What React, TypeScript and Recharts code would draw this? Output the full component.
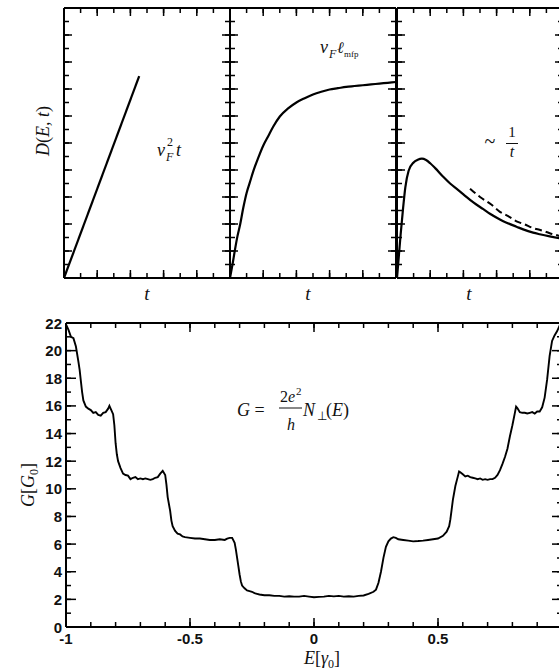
import React from 'react';
import { LineChart, Line, XAxis, YAxis } from 'recharts';

// top row: spreading D(E,t) in three regimes
const ballisticT = [0, 4.53];
const ballisticD = [0, 7.48];

const diffusiveT = [0, 0.15, 0.3, 0.45, 0.6, 0.8, 1.0, 1.2, 1.4, 1.7, 2.0, 2.3, 2.6, 3.0, 3.5, 4.0, 4.5, 5.0, 5.5, 6.0, 6.5, 7.0, 7.5, 8.0, 8.5, 9.0, 9.5, 10];
const diffusiveD = [0, 0.5, 1.05, 1.55, 1.95, 2.6, 3.15, 3.55, 3.95, 4.45, 4.9, 5.25, 5.6, 5.98, 6.28, 6.5, 6.66, 6.8, 6.9, 6.98, 7.03, 7.08, 7.11, 7.14, 7.17, 7.2, 7.23, 7.26];

const localizedT = [0, 0.12, 0.22, 0.35, 0.5, 0.7, 1.0, 1.25, 1.5, 1.75, 2.0, 2.3, 2.8, 3.2, 3.6, 4.0, 4.6, 5.2, 5.6, 6.2, 6.6, 7.2, 7.6, 8.2, 8.6, 9.2, 9.8, 10];
const localizedD = [0, 0.88, 1.62, 2.48, 3.35, 3.97, 4.28, 4.38, 4.42, 4.37, 4.25, 4.07, 3.74, 3.5, 3.3, 3.1, 2.8, 2.55, 2.38, 2.17, 2.05, 1.9, 1.8, 1.68, 1.62, 1.54, 1.47, 1.45];

const inverseT = [4.4, 5.0, 5.66, 6.2, 6.67, 7.2, 7.67, 8.2, 8.67, 9.2, 9.77, 10];
const inverseD = [3.31, 3.0, 2.73, 2.45, 2.3, 2.1, 1.99, 1.85, 1.77, 1.66, 1.56, 1.52];

// bottom: conductance vs energy
const energy = [
  -1.0, -0.99, -0.98, -0.97, -0.96, -0.95, -0.945, -0.94, -0.935, -0.93, -0.92, -0.91, -0.9, -0.89, -0.88, -0.87, -0.86, -0.85, -0.84, -0.83,
  -0.825, -0.82, -0.81, -0.805, -0.8, -0.795, -0.79, -0.78, -0.77, -0.76, -0.75, -0.74, -0.73, -0.72, -0.71, -0.7, -0.69, -0.68, -0.67, -0.66,
  -0.65, -0.64, -0.63, -0.62, -0.61, -0.6, -0.595, -0.59, -0.58, -0.575, -0.57, -0.56, -0.55, -0.54, -0.53, -0.52, -0.5, -0.48, -0.46, -0.44,
  -0.42, -0.4, -0.38, -0.36, -0.35, -0.34, -0.33, -0.32, -0.315, -0.31, -0.305, -0.3, -0.295, -0.29, -0.28, -0.27, -0.26, -0.25, -0.24, -0.23,
  -0.22, -0.2, -0.18, -0.16, -0.14, -0.12, -0.1, -0.08, -0.06, -0.04, -0.02, 0, 0.02, 0.04, 0.06, 0.08, 0.1, 0.12, 0.14, 0.16,
  0.18, 0.2, 0.22, 0.24, 0.25, 0.26, 0.27, 0.28, 0.29, 0.3, 0.31, 0.32, 0.33, 0.34, 0.36, 0.38, 0.4, 0.42, 0.44, 0.46,
  0.48, 0.5, 0.52, 0.535, 0.545, 0.55, 0.555, 0.56, 0.57, 0.58, 0.585, 0.59, 0.6, 0.61, 0.62, 0.63, 0.64, 0.65, 0.66, 0.67,
  0.68, 0.69, 0.7, 0.71, 0.72, 0.73, 0.74, 0.75, 0.76, 0.77, 0.78, 0.79, 0.8, 0.81, 0.815, 0.82, 0.83, 0.84, 0.85, 0.86,
  0.87, 0.88, 0.89, 0.9, 0.91, 0.92, 0.93, 0.94, 0.95, 0.96, 0.97, 0.98, 0.99, 1.0,
];
const conductance = [
  21.9, 21.5, 21.0, 20.9, 20.3, 19.2, 18.6, 17.8, 17.0, 16.4, 15.95, 15.8, 15.7, 15.5, 15.55, 15.35, 15.3, 15.5, 15.55, 15.8,
  16.0, 15.8, 15.4, 14.6, 13.3, 12.5, 12.0, 11.5, 11.1, 11.0, 10.95, 10.7, 10.8, 10.85, 10.7, 10.75, 10.7, 10.75, 10.7, 10.65,
  10.7, 10.8, 10.85, 11.1, 11.3, 11.0, 10.3, 9.4, 8.4, 7.7, 7.3, 6.95, 6.75, 6.7, 6.55, 6.5, 6.45, 6.4, 6.4, 6.35,
  6.3, 6.3, 6.35, 6.3, 6.4, 6.45, 6.45, 6.1, 5.6, 5.0, 4.4, 3.8, 3.3, 3.0, 2.8, 2.65, 2.6, 2.55, 2.45, 2.4,
  2.35, 2.3, 2.3, 2.25, 2.25, 2.2, 2.22, 2.2, 2.2, 2.25, 2.2, 2.15, 2.18, 2.2, 2.25, 2.22, 2.25, 2.2, 2.22, 2.2,
  2.25, 2.28, 2.4, 2.55, 2.7, 3.2, 4.0, 5.0, 5.8, 6.2, 6.4, 6.5, 6.45, 6.35, 6.3, 6.25, 6.2, 6.22, 6.25, 6.3,
  6.35, 6.4, 6.6, 6.9, 7.3, 7.8, 8.5, 9.2, 10.2, 10.9, 11.25, 11.2, 11.05, 10.9, 10.95, 10.85, 10.8, 10.75, 10.7, 10.75,
  10.65, 10.7, 10.65, 10.7, 10.7, 10.8, 11.0, 11.35, 11.8, 12.3, 12.9, 13.8, 14.6, 15.5, 15.95, 15.85, 15.55, 15.5, 15.5, 15.45,
  15.5, 15.55, 15.45, 15.6, 15.6, 15.9, 16.6, 17.9, 19.6, 20.7, 21.1, 21.4, 21.8, 22.2,
];

const tTicks = [0, 1, 2, 3, 4, 5, 6, 7, 8, 9, 10];
const dTicks = [0, 0.5, 1, 1.5, 2, 2.5, 3, 3.5, 4, 4.5, 5, 5.5, 6, 6.5, 7, 7.5, 8, 8.5, 9, 9.5, 10];
const eTicks = [-1, -0.9, -0.8, -0.7, -0.6, -0.5, -0.4, -0.3, -0.2, -0.1, 0, 0.1, 0.2, 0.3, 0.4, 0.5, 0.6, 0.7, 0.8, 0.9, 1];
const gTicks = [0, 1, 2, 3, 4, 5, 6, 7, 8, 9, 10, 11, 12, 13, 14, 15, 16, 17, 18, 19, 20, 21, 22];
const eLabels = ['-1', '-0.5', '0', '0.5'];

const toRows = (xs: number[], ys: number[], xk: string, yk: string) =>
  xs.map((x, i) => ({ [xk]: x, [yk]: ys[i] }));

const SERIF = '"Liberation Serif", "Times New Roman", serif';
const SANS = '"Liberation Sans", Arial, sans-serif';

const near = (a: number, b: number) => Math.abs(a - b) < 1e-6;
const evenInt = (v: number) => near(v / 2, Math.round(v / 2));
const isInt = (v: number) => near(v, Math.round(v));
const halfStep = (v: number) => near(v * 2, Math.round(v * 2));

const BASE_TICK = 5; // built-in inward tick length (tickSize = -BASE_TICK)

// longer marks on major values, optional label; props.x/y sit BASE_TICK inside the edge
function tickMark(side: string, isMajor: (v: number) => boolean, long: number, label?: (v: number) => string | null) {
  return function TickMark(props: any) {
    let x = Number(props.x);
    let y = Number(props.y);
    if (side === 'bottom') y += BASE_TICK;
    if (side === 'top') y -= BASE_TICK;
    if (side === 'left') x -= BASE_TICK;
    if (side === 'right') x += BASE_TICK;
    const v = Number(props.payload?.value);
    const len = isMajor(v) ? long : 0;
    let dx = 0;
    let dy = 0;
    if (side === 'bottom') dy = -len;
    if (side === 'top') dy = len;
    if (side === 'left') dx = len;
    if (side === 'right') dx = -len;
    const text = label ? label(v) : null;
    return (
      <g>
        {len > 0 && <path d={`M${x},${y}l${dx},${dy}`} stroke="#000" strokeWidth={1.5} fill="none" />}
        {text != null && side === 'bottom' && (
          <text x={x} y={y + 17} textAnchor="middle" fontFamily={SANS} fontWeight="bold" fontSize={15} fill="#111">{text}</text>
        )}
        {text != null && side === 'left' && (
          <text x={x - 4} y={y + 5.5} textAnchor="end" fontFamily={SANS} fontWeight="bold" fontSize={15} fill="#111">{text}</text>
        )}
      </g>
    );
  };
}

const frame = { stroke: '#000', strokeWidth: 2 };
const tickStroke = { stroke: '#000', strokeWidth: 1.5 };
const AX = 2;

const PANEL_W = 166;
const PANEL_H = 270;
const PAD = 20;

const axisCommon = {
  allowDataOverflow: true,
  interval: 0 as const,
  tickSize: -BASE_TICK,
  tickMargin: 0,
  tickLine: tickStroke,
  axisLine: frame,
};

function TopPanel({ left, rows, fitRows }: { left: number; rows: any[]; fitRows?: any[] }) {
  const m = PAD - AX;
  return (
    <div style={{ position: 'absolute', left: left - PAD, top: 7.5 - PAD }}>
      <LineChart width={PANEL_W + 2 * PAD} height={PANEL_H + 2 * PAD} margin={{ top: m, right: m, bottom: m, left: m }}>
        <XAxis xAxisId="b" dataKey="t" type="number" domain={[0, 10]} ticks={tTicks} orientation="bottom" height={AX}
          {...axisCommon} tick={tickMark('bottom', evenInt, 8)} />
        <XAxis xAxisId="t" dataKey="t" type="number" domain={[0, 10]} ticks={tTicks} orientation="top" height={AX}
          {...axisCommon} tick={tickMark('top', evenInt, 8)} />
        <YAxis yAxisId="l" type="number" domain={[0, 10]} ticks={dTicks} orientation="left" width={AX}
          {...axisCommon} tick={tickMark('left', isInt, 8)} />
        <YAxis yAxisId="r" type="number" domain={[0, 10]} ticks={dTicks} orientation="right" width={AX}
          {...axisCommon} tick={tickMark('right', isInt, 8)} />
        <Line xAxisId="b" yAxisId="l" data={rows} dataKey="d" type="monotone" stroke="#000" strokeWidth={2.2}
          dot={false} isAnimationActive={false} />
        {fitRows && (
          <Line xAxisId="b" yAxisId="l" data={fitRows} dataKey="d" type="monotone" stroke="#000" strokeWidth={2}
            strokeDasharray="7 4" dot={false} isAnimationActive={false} />
        )}
      </LineChart>
    </div>
  );
}

function ConductancePanel() {
  const rows = toRows(energy, conductance, 'e', 'g');
  return (
    <div style={{ position: 'absolute', left: 0, top: 300 }}>
      <LineChart width={620} height={372} margin={{ top: 21, left: 64, right: 56, bottom: 43 }}>
        <XAxis xAxisId="b" dataKey="e" type="number" domain={[-1, 1]} ticks={eTicks} orientation="bottom" height={AX}
          {...axisCommon} tick={tickMark('bottom', halfStep, 9, (v) => eLabels.find((s) => near(parseFloat(s), v)) ?? null)} />
        <XAxis xAxisId="t" dataKey="e" type="number" domain={[-1, 1]} ticks={eTicks} orientation="top" height={AX}
          {...axisCommon} tick={tickMark('top', halfStep, 9)} />
        <YAxis yAxisId="l" type="number" domain={[0, 22]} ticks={gTicks} orientation="left" width={AX}
          {...axisCommon} tick={tickMark('left', evenInt, 10, (v) => (evenInt(v) ? String(Math.round(v)) : null))} />
        <YAxis yAxisId="r" type="number" domain={[0, 22]} ticks={gTicks} orientation="right" width={AX}
          {...axisCommon} tick={tickMark('right', evenInt, 10)} />
        <Line xAxisId="b" yAxisId="l" data={rows} dataKey="g" type="linear" stroke="#000" strokeWidth={1.9}
          dot={false} isAnimationActive={false} />
      </LineChart>
    </div>
  );
}

function Annotations() {
  const it = { fontFamily: SERIF, fontStyle: 'italic' as const, fill: '#111' };
  const up = { fontFamily: SERIF, fill: '#111' };
  return (
    <svg width={559} height={672} style={{ position: 'absolute', left: 0, top: 0, pointerEvents: 'none' }}>
      {/* axis titles */}
      <text transform="translate(49,131) rotate(-90)" textAnchor="middle" fontSize={18} {...up}>
        <tspan {...it}>D</tspan>(<tspan {...it}>E, t</tspan>)
      </text>
      <text x={147} y={300} textAnchor="middle" fontSize={19} {...it}>t</text>
      <text x={308} y={300} textAnchor="middle" fontSize={19} {...it}>t</text>
      <text x={469} y={300} textAnchor="middle" fontSize={19} {...it}>t</text>
      <text transform="translate(34,485) rotate(-90)" textAnchor="middle" fontSize={18} {...up}>
        <tspan {...it}>G</tspan>[<tspan {...it}>G</tspan><tspan fontSize={12} dy={4}>0</tspan><tspan dy={-4}>]</tspan>
      </text>
      <text x={322} y={664} textAnchor="middle" fontSize={18} {...up}>
        <tspan {...it}>E</tspan>[<tspan {...it}>γ</tspan><tspan fontSize={12} dy={4}>0</tspan><tspan dy={-4}>]</tspan>
      </text>

      {/* v_F^2 t */}
      <text x={157} y={156} fontSize={18} {...it}>v</text>
      <text x={167} y={146} fontSize={12} {...up}>2</text>
      <text x={166} y={161} fontSize={12} {...it}>F</text>
      <text x={176} y={156} fontSize={18} {...it}>t</text>

      {/* v_F l_mfp */}
      <text x={320} y={53} fontSize={18} {...it}>v</text>
      <text x={329} y={58} fontSize={12} {...it}>F</text>
      <text x={337} y={53} fontSize={16} {...it}>ℓ</text>
      <text x={344} y={57} fontSize={9} {...up}>mfp</text>

      {/* ~ 1/t */}
      <text x={490} y={148} textAnchor="middle" fontSize={20} {...up}>~</text>
      <text x={512} y={137} textAnchor="middle" fontSize={15} {...up}>1</text>
      <line x1={506} x2={518} y1={143.5} y2={143.5} stroke="#111" strokeWidth={1} />
      <text x={512} y={157} textAnchor="middle" fontSize={16} {...it}>t</text>

      {/* G = 2e^2/h N_perp(E) */}
      <text x={237} y={416} fontSize={18} {...up}><tspan {...it}>G</tspan> =</text>
      <text x={280} y={402} fontSize={16} {...up}>2<tspan {...it}>e</tspan></text>
      <text x={296} y={395} fontSize={11} {...up}>2</text>
      <line x1={279} x2={302} y1={408} y2={408} stroke="#111" strokeWidth={1} />
      <text x={291} y={430} textAnchor="middle" fontSize={16} {...it}>h</text>
      <text x={303} y={416} fontSize={18} {...it}>N</text>
      <text x={317} y={420} fontSize={12} {...up}>⊥</text>
      <text x={326} y={416} fontSize={18} {...up}>(<tspan {...it}>E</tspan>)</text>
    </svg>
  );
}

export default function App() {
  return (
    <div style={{ position: 'absolute', left: 0, top: 0, width: 559, height: 672, overflow: 'hidden' }}>
      <Annotations />
      <TopPanel left={63.5} rows={toRows(ballisticT, ballisticD, 't', 'd')} />
      <TopPanel left={230} rows={toRows(diffusiveT, diffusiveD, 't', 'd')} />
      <TopPanel left={396.5} rows={toRows(localizedT, localizedD, 't', 'd')} fitRows={toRows(inverseT, inverseD, 't', 'd')} />
      <ConductancePanel />
    </div>
  );
}
